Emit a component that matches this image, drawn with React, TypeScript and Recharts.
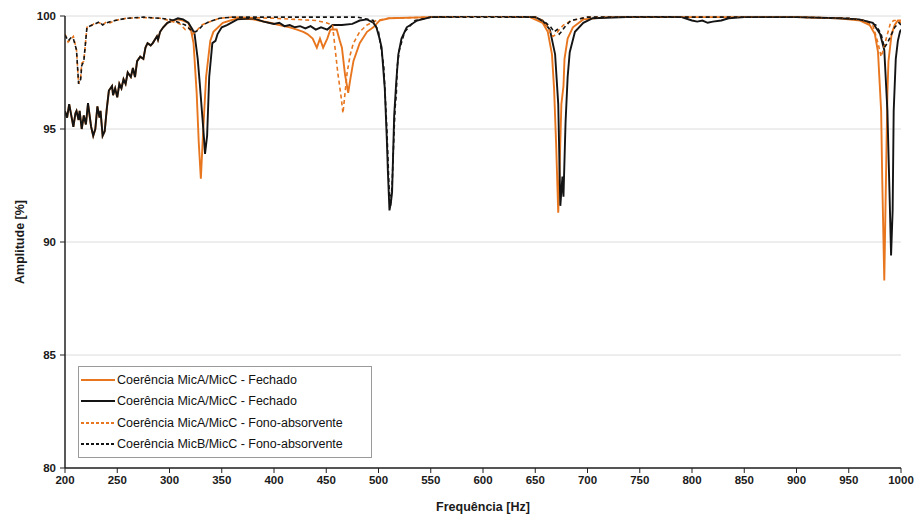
import { LineChart, Line, XAxis, YAxis, CartesianGrid } from "recharts";

const ORANGE = "#E8761F";
const BLACK = "#141414";
const AXIS_FONT = "'Liberation Sans Narrow', 'Liberation Sans', Arial, sans-serif";

const xTicks = [200, 250, 300, 350, 400, 450, 500, 550, 600, 650, 700, 750, 800, 850, 900, 950, 1000];
const yTicks = [80, 85, 90, 95, 100];

// Coerência MicA/MicC - Fechado (laranja, contínua)
const fechadoAFreq = [
  200, 202, 204, 206, 208, 210, 211, 213, 214, 216, 218, 220, 222, 225, 227, 229, 231, 233, 234, 236,
  238, 240, 242, 245, 246, 248, 250, 252, 254, 256, 258, 260, 263, 265, 267, 269, 272, 275, 277, 279,
  282, 284, 288, 289, 291, 294, 298, 303, 308, 313, 318, 320, 323, 326, 328, 330, 332, 335, 339, 342,
  351, 365, 380, 396, 405, 415, 422, 428, 432, 437, 441, 444, 447, 451, 454, 460, 463, 465, 468, 471,
  473, 476, 482, 489, 495, 501, 510, 550, 600, 645, 657, 662, 666, 668, 670, 672, 673, 675, 677, 678,
  681, 686, 696, 720, 800, 900, 940, 961, 970, 975, 978, 981, 982, 984, 985, 987, 988, 991, 994, 997, 1000,
];
const fechadoAAmp = [
  95.8, 95.5, 96.1, 95.6, 95.1, 95.7, 95.8, 95.4, 95.8, 95.0, 95.6, 95.2, 96.1, 95.1, 94.7, 95.0, 96.0, 95.5, 95.8, 94.7,
  94.9, 95.9, 96.7, 96.9, 96.5, 96.8, 96.4, 97.0, 96.8, 97.2, 97.0, 97.5, 97.3, 97.7, 97.3, 98.0, 98.2, 98.1, 98.6, 98.8,
  98.7, 98.8, 99.1, 98.95, 99.3, 99.5, 99.7, 99.8, 99.85, 99.8, 99.7, 99.5, 98.8, 96.6, 94.4, 92.8, 94.7, 97.3, 98.9, 99.3,
  99.7, 99.9, 99.85, 99.7, 99.6, 99.5, 99.4, 99.3, 99.2, 99.0, 98.6, 99.0, 98.6, 99.0, 99.4, 99.4, 98.9, 98.6, 97.4, 96.6,
  97.2, 98.0, 98.8, 99.3, 99.5, 99.8, 99.9, 99.95, 100, 99.95, 99.7, 99.3, 98.3, 96.8, 94.3, 91.3, 92.8, 96.1, 96.9, 98.1,
  99.0, 99.5, 99.85, 99.95, 99.95, 99.95, 99.9, 99.8, 99.6, 99.2, 98.4, 95.8, 92.9, 88.3, 91.1, 96.6, 98.0, 99.2, 99.6, 99.8, 99.8,
];

// Coerência MicA/MicC - Fechado (preta, contínua)
const fechadoBFreq = [
  200, 202, 204, 206, 208, 210, 211, 213, 214, 216, 218, 220, 222, 225, 227, 229, 231, 233, 234, 236,
  238, 240, 242, 245, 246, 248, 250, 252, 254, 256, 258, 260, 263, 265, 267, 269, 272, 275, 277, 279,
  282, 284, 288, 289, 291, 294, 298, 303, 308, 313, 318, 322, 324, 327, 329, 331, 333, 334, 336, 338,
  341, 344, 346, 350, 355, 365, 380, 390, 400, 405, 410, 415, 420, 425, 430, 435, 440, 445, 451, 456,
  465, 475, 482, 489, 495, 498, 501, 503, 506, 508, 509, 510.5, 512, 513, 515, 517, 519, 522, 527, 537,
  550, 600, 650, 657, 664, 669, 672, 674, 676, 677, 679, 681, 683, 688, 696, 705, 750, 790, 800, 805,
  810, 815, 820, 828, 835, 850, 900, 940, 960, 973, 980, 984, 987, 989, 990.5, 992, 993, 995, 997, 999, 1000,
];
const fechadoBAmp = [
  95.8, 95.5, 96.1, 95.6, 95.1, 95.7, 95.8, 95.4, 95.8, 95.0, 95.6, 95.2, 96.15, 95.1, 94.7, 95.0, 96.0, 95.5, 95.8, 94.7,
  94.9, 95.9, 96.7, 96.9, 96.5, 96.8, 96.4, 97.0, 96.8, 97.2, 97.0, 97.5, 97.3, 97.7, 97.3, 98.0, 98.2, 98.1, 98.6, 98.8,
  98.7, 98.8, 99.1, 98.95, 99.3, 99.5, 99.7, 99.8, 99.9, 99.85, 99.7, 99.4, 99.2, 98.1, 97.0, 95.8, 94.6, 93.9, 94.7, 97.3,
  98.8, 98.9, 99.2, 99.5, 99.6, 99.85, 99.9, 99.75, 99.65, 99.7, 99.55, 99.6, 99.5, 99.55, 99.45, 99.55, 99.4, 99.5, 99.4, 99.6,
  99.6, 99.65, 99.8, 99.85, 99.7, 99.5, 99.0, 98.6, 96.8, 94.5, 93.1, 91.4, 91.8, 92.2, 95.6, 97.1, 98.3, 99.0, 99.5, 99.8,
  99.95, 100, 99.95, 99.8, 99.4, 98.3, 96.1, 91.6, 92.9, 92.0, 95.3, 97.3, 98.4, 99.3, 99.7, 99.9, 99.98, 99.95, 99.8, 99.75,
  99.8, 99.7, 99.75, 99.8, 99.9, 99.95, 99.95, 99.9, 99.85, 99.7, 99.2, 98.5, 95.8, 92.2, 89.4, 91.4, 95.8, 98.1, 98.9, 99.3, 99.4,
];

// Coerência MicA/MicC - Fono-absorvente (laranja, tracejada)
const fonoAFreq = [
  200, 203, 206, 208, 211, 213, 215, 216, 218, 221, 226, 229, 233, 236, 240, 243, 248, 253, 259, 275,
  291, 300, 310, 315, 318, 322, 325, 327, 331, 336, 348, 360, 400, 420, 440, 450, 456, 461, 464, 466,
  468, 470, 473, 476, 482, 489, 498, 510, 550, 600, 650, 657, 662, 665, 667, 670, 673, 677, 685, 700,
  800, 900, 950, 965, 973, 978, 981, 983, 987, 990, 993, 997, 1000,
];
const fonoAAmp = [
  99.2, 98.85, 99.0, 99.1, 98.5, 97.0, 97.3, 97.9, 98.0, 99.5, 99.6, 99.7, 99.7, 99.6, 99.75, 99.7, 99.8, 99.85, 99.9, 99.93,
  99.9, 99.8, 99.65, 99.4, 99.5, 99.2, 99.3, 99.4, 99.6, 99.7, 99.9, 99.95, 99.9, 99.85, 99.8, 99.7, 99.6, 97.5, 96.5, 95.7,
  96.6, 97.5, 98.3, 98.8, 99.3, 99.6, 99.8, 99.9, 99.95, 100, 99.95, 99.8, 99.5, 99.2, 99.1, 99.2, 99.4, 99.6, 99.8, 99.95,
  99.95, 99.95, 99.9, 99.8, 99.6, 98.8, 98.2, 98.5, 99.2, 99.7, 99.8, 99.8, 99.7,
];

// Coerência MicB/MicC - Fono-absorvente (preta, tracejada)
const fonoBFreq = [
  200, 203, 206, 208, 211, 213, 215, 216, 218, 221, 226, 229, 233, 236, 240, 243, 248, 253, 259, 275,
  291, 300, 310, 315, 320, 325, 328, 332, 338, 348, 360, 480, 495, 500, 505, 508, 510, 511.5, 513, 515,
  516, 517, 518, 520, 525, 535, 550, 650, 660, 665, 668, 671, 673, 675, 678, 684, 700, 900, 950, 965,
  976, 981, 984, 987, 991, 994, 998, 1000,
];
const fonoBAmp = [
  99.15, 98.9, 99.05, 99.0, 98.5, 97.0, 97.2, 97.8, 98.0, 99.5, 99.6, 99.65, 99.75, 99.6, 99.7, 99.75, 99.8, 99.85, 99.9, 99.95,
  99.9, 99.85, 99.7, 99.6, 99.4, 99.3, 99.4, 99.6, 99.75, 99.9, 99.95, 99.95, 99.8, 99.3, 97.8, 95.0, 92.5, 91.6, 92.5, 95.0,
  96.0, 96.5, 97.8, 98.5, 99.3, 99.8, 99.95, 99.95, 99.7, 99.5, 99.3, 99.4, 99.2, 99.3, 99.5, 99.8, 99.95, 99.95, 99.9, 99.8,
  99.6, 99.2, 98.6, 98.8, 99.2, 99.5, 99.7, 99.6,
];

function toPoints(freq: number[], amp: number[]) {
  return freq.map((f, i) => ({ f, a: amp[i] }));
}

const series = [
  { name: "Coerência MicA/MicC - Fechado", color: ORANGE, dash: undefined, data: toPoints(fechadoAFreq, fechadoAAmp) },
  { name: "Coerência MicA/MicC - Fechado", color: BLACK, dash: undefined, data: toPoints(fechadoBFreq, fechadoBAmp) },
  { name: "Coerência MicA/MicC - Fono-absorvente", color: ORANGE, dash: "4 3", data: toPoints(fonoAFreq, fonoAAmp) },
  { name: "Coerência MicB/MicC - Fono-absorvente", color: BLACK, dash: "4 3", data: toPoints(fonoBFreq, fonoBAmp) },
];

function LegendBox() {
  return (
    <div
      style={{
        position: "absolute",
        left: 78,
        top: 366,
        border: "1px solid #9a9a9a",
        background: "#fff",
        width: 290,
        padding: "2px 0 2px 2px",
        fontFamily: "'Liberation Sans', Arial, sans-serif",
        fontSize: 12.5,
        color: "#111",
      }}
    >
      {series.map((s, i) => (
        <div key={i} style={{ display: "flex", alignItems: "center", height: 21.5 }}>
          <svg width={34} height={6} style={{ marginRight: 2 }}>
            <line x1={0} y1={3} x2={34} y2={3} stroke={s.color} strokeWidth={1.8} strokeDasharray={s.dash ? "3 2" : undefined} />
          </svg>
          <span>{s.name}</span>
        </div>
      ))}
    </div>
  );
}

export default function App() {
  const tickStyle = { fontFamily: AXIS_FONT, fontWeight: 700, fontSize: 11.5, fill: "#1a1a1a" };
  return (
    <div style={{ position: "absolute", left: 0, top: 0, width: 918, height: 515, background: "#fff" }}>
      <LineChart width={918} height={515} margin={{ top: 16, right: 17, left: 0, bottom: 0 }}>
        <CartesianGrid vertical={false} stroke="#dcdcdc" strokeWidth={1} />
        <XAxis
          dataKey="f"
          type="number"
          domain={[200, 1000]}
          ticks={xTicks}
          interval={0}
          height={47}
          tick={tickStyle}
          tickSize={5}
          tickMargin={3}
          axisLine={{ stroke: "#222", strokeWidth: 1.5 }}
          tickLine={{ stroke: "#222" }}
          allowDataOverflow
          label={{
            value: "Frequência [Hz]",
            position: "insideBottom",
            offset: 4,
            style: { fontFamily: AXIS_FONT, fontWeight: 700, fontSize: 12.5, fill: "#1a1a1a" },
          }}
        />
        <YAxis
          type="number"
          domain={[80, 100]}
          ticks={yTicks}
          interval={0}
          width={65}
          tick={tickStyle}
          tickSize={5}
          tickMargin={4}
          axisLine={{ stroke: "#222", strokeWidth: 1.5 }}
          tickLine={{ stroke: "#222" }}
          allowDataOverflow
          label={({ viewBox }: any) => {
            const cx = 21;
            const cy = viewBox.y + viewBox.height / 2;
            return (
              <text
                x={cx}
                y={cy}
                transform={`rotate(-90 ${cx} ${cy})`}
                textAnchor="middle"
                dominantBaseline="middle"
                style={{ fontFamily: AXIS_FONT, fontWeight: 700, fontSize: 12.5, fill: "#1a1a1a" }}
              >
                Amplitude [%]
              </text>
            );
          }}
        />
        {series.map((s, i) => (
          <Line
            key={i}
            data={s.data}
            dataKey="a"
            name={s.name}
            type="linear"
            stroke={s.color}
            strokeWidth={s.dash ? 1.6 : 1.9}
            strokeDasharray={s.dash}
            dot={false}
            activeDot={false}
            isAnimationActive={false}
          />
        ))}
      </LineChart>
      <LegendBox />
    </div>
  );
}
